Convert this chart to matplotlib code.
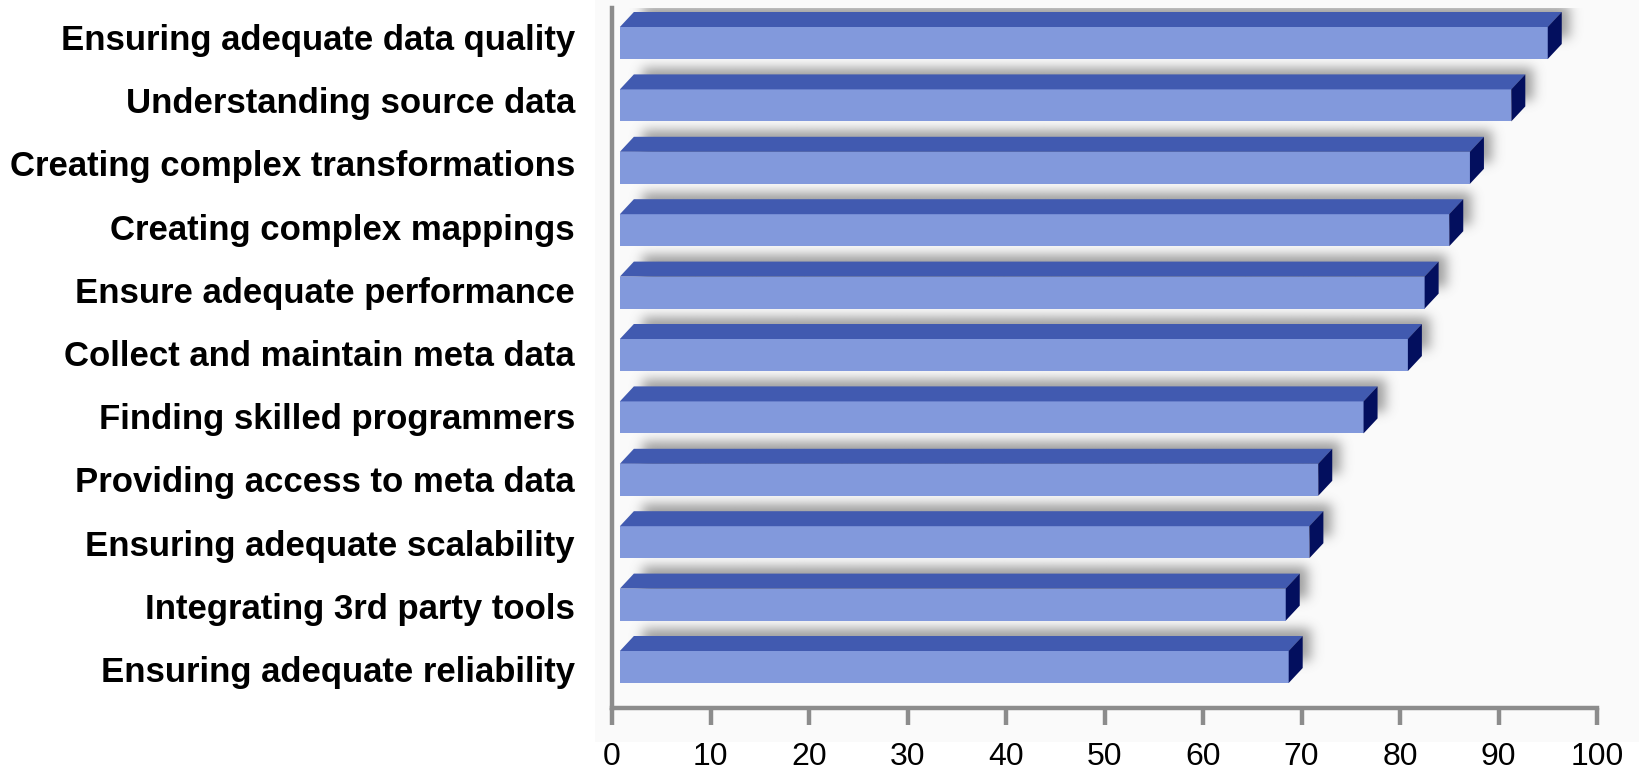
import numpy as np
import matplotlib
matplotlib.use("Agg")
import matplotlib.pyplot as plt
from matplotlib.patches import Polygon, Rectangle

categories = [
    "Ensuring adequate data quality",
    "Understanding source data",
    "Creating complex transformations",
    "Creating complex mappings",
    "Ensure adequate performance",
    "Collect and maintain meta data",
    "Finding skilled programmers",
    "Providing access to meta data",
    "Ensuring adequate scalability",
    "Integrating 3rd party tools",
    "Ensuring adequate reliability",
]
values = [95.0, 91.3, 87.1, 85.0, 82.5, 80.8, 76.3, 71.7, 70.8, 68.4, 68.7]
xticks = [0, 10, 20, 30, 40, 50, 60, 70, 80, 90, 100]

W, H = 1639, 775
fig = plt.figure(figsize=(W / 100, H / 100), dpi=100)
fig.patch.set_facecolor("white")

# light background panel
fig.add_artist(Rectangle((595 / W, (H - 742) / H), 1 - 595 / W, 742 / H,
                         transform=fig.transFigure, facecolor="#fafafa",
                         edgecolor="none", zorder=0))

ax = fig.add_axes([612 / W, (H - 708) / H, (1597 - 612) / W, (708 - 8) / H])
ax.set_facecolor("none")

P = 62.4           # pixel pitch of rows
ax.set_xlim(0, 100)
ax.set_ylim((708 - 43) / P, (8 - 43) / P)

h = 32 / P         # front-face height (rows)
dx = 14 / 9.85     # depth in x units
dy = 15 / P        # depth in row units
x0 = 0.8

front_c = "#8299dc"
top_c = "#415ab0"
side_c = "#030f5e"

# soft shadow image
xs = np.arange(0, 106, 0.1)
ys = np.arange(-0.7, 10.8, 0.02)
XX, YY = np.meshgrid(xs, ys)
mask = np.zeros_like(XX)
offx = 8 / 9.85
offy = 7 / P
for i, v in enumerate(values):
    m = ((XX >= x0 + dx + offx) & (XX <= v + dx + offx) &
         (YY >= i - h / 2 - dy - offy) & (YY <= i + h / 2 - dy - offy))
    mask[m] = 1.0


def gblur(a, sx, sy):
    def kern(s):
        r = int(3 * s)
        t = np.arange(-r, r + 1)
        k = np.exp(-0.5 * (t / s) ** 2)
        return k / k.sum()
    kx, ky = kern(sx), kern(sy)
    a = np.apply_along_axis(lambda r: np.convolve(r, kx, mode="same"), 1, a)
    a = np.apply_along_axis(lambda c: np.convolve(c, ky, mode="same"), 0, a)
    return a


sh = gblur(mask, 6.0, 4.5)
rgba = np.zeros(sh.shape + (4,))
rgba[..., :3] = 0.4
rgba[..., 3] = np.clip(sh * 0.62, 0, 1)
ax.imshow(rgba, extent=(xs[0], xs[-1], ys[-1], ys[0]), origin="upper",
          aspect="auto", zorder=1, interpolation="bilinear")

for i, v in enumerate(values):
    yt = i - h / 2
    yb = i + h / 2
    ax.add_patch(Rectangle((x0, yt), v - x0, h, facecolor=front_c,
                           edgecolor="none", zorder=3))
    ax.add_patch(Polygon([(x0, yt), (x0 + dx, yt - dy), (v + dx, yt - dy), (v, yt)],
                         closed=True, facecolor=top_c, edgecolor="none", zorder=3))
    ax.add_patch(Polygon([(v, yt), (v + dx, yt - dy), (v + dx, yb - dy), (v, yb)],
                         closed=True, facecolor=side_c, edgecolor="none", zorder=3))

for i, lab in enumerate(categories):
    fig.text(575 / W, (H - (50 + 63.2 * i)) / H, lab,
             ha="right", va="baseline", fontsize=25, fontweight="bold",
             family="Liberation Sans", color="black")

ax.set_xlim(0, 100)
ax.set_ylim((708 - 43) / P, (8 - 43) / P)

for s in ["top", "right"]:
    ax.spines[s].set_visible(False)
for s in ["left", "bottom"]:
    ax.spines[s].set_color("#8c8c8c")
    ax.spines[s].set_linewidth(3.2)
    ax.spines[s].set_zorder(4)

ax.set_yticks([])
ax.set_xticks(xticks)
ax.set_xticklabels([str(t) for t in xticks], fontsize=23, family="Liberation Sans")
ax.tick_params(axis="x", direction="out", length=12.5, width=3.2, color="#8c8c8c",
               pad=12)

fig.savefig("out.png", dpi=100)
